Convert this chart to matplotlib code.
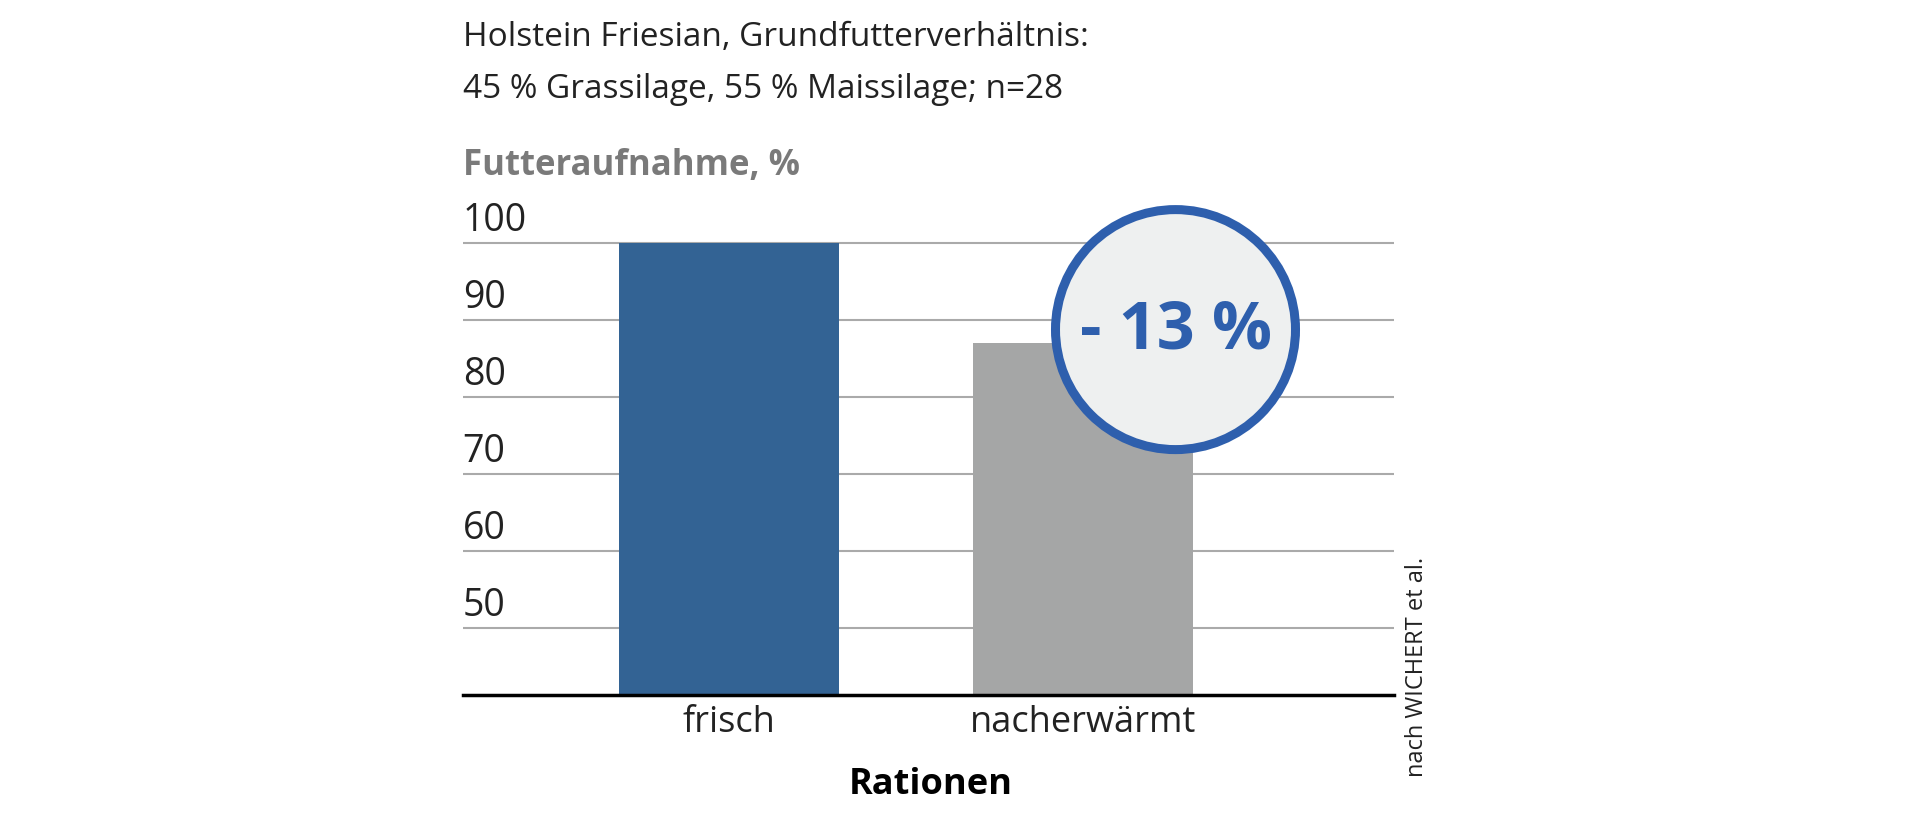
import matplotlib.pyplot as plt
from matplotlib.patches import Circle
from matplotlib.transforms import IdentityTransform

plt.rcParams['font.family'] = ['Open Sans', 'DejaVu Sans']

categories = ['frisch', 'nacherwärmt']
values = [100, 87]
colors = ['#336394', '#a5a6a6']
yticks = [50, 60, 70, 80, 90, 100]
base = 41.4

fig = plt.figure(figsize=(19.2, 8.29), dpi=100)
ax = fig.add_axes([0.241, 0.161, 0.485, 0.5916])
ax.set_xlim(0, 1)
ax.set_ylim(base, 105)

for y in yticks:
    ax.axhline(y, color='#aaaaaa', lw=1.5, zorder=0)
    ax.text(0, y + 0.5, str(y), fontsize=27, color='#222222', va='bottom', ha='left')

ax.bar([0.286, 0.666], [v - base for v in values], width=0.2355, bottom=base,
       color=colors, zorder=2)
for x, lab in zip([0.286, 0.666], categories):
    ax.text(x, 40.2, lab, fontsize=26, ha='center', va='top', color='#222222')

ax.set_xticks([])
ax.set_yticks([])
for s in ['top', 'right', 'left']:
    ax.spines[s].set_visible(False)
ax.spines['bottom'].set_linewidth(2.5)
ax.spines['bottom'].set_color('black')

circ = Circle((1175.5, 498.4), 120, transform=IdentityTransform(),
              facecolor='#eef0f0', edgecolor='#2e5fad', lw=6.5, zorder=5)
fig.add_artist(circ)
fig.text(1175.5 / 1920, 498.4 / 829, '- 13 %', fontsize=48, fontweight='bold',
         color='#2e5fad', ha='center', va='center', zorder=6)

fig.text(0.241, 0.955, 'Holstein Friesian, Grundfutterverhältnis:', fontsize=24,
         color='#222222', va='center')
fig.text(0.241, 0.892, '45 % Grassilage, 55 % Maissilage; n=28', fontsize=24,
         color='#222222', va='center')
fig.text(0.241, 0.80, 'Futteraufnahme, %', fontsize=25, fontweight='bold',
         color='#7a7a7a', va='center')
fig.text(0.485, 0.053, 'Rationen', fontsize=26, fontweight='bold', color='black',
         ha='center', va='center')
fig.text(0.738, 0.195, 'nach WICHERT et al.', fontsize=17, rotation=90,
         color='#222222', ha='center', va='center')

fig.savefig('out.png', dpi=100)
